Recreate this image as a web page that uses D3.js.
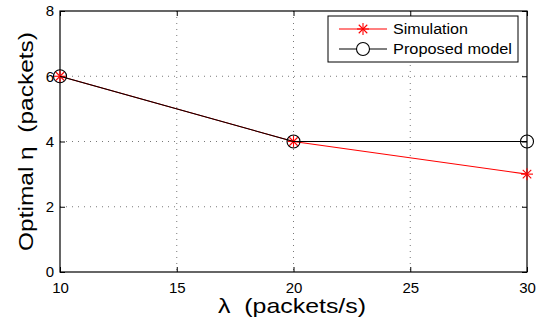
<!DOCTYPE html>
<html>
<head>
<meta charset="utf-8">
<script src="https://cdn.jsdelivr.net/npm/d3@7"></script>
<style>
  body { margin: 0; background: #fff; }
  text { font-family: "Liberation Sans", Arial, sans-serif; white-space: pre; }
</style>
</head>
<body>
<div id="chart"></div>
<script>
const lambdas = [10, 20, 30];
const simulation = [6, 4, 3];
const proposedModel = [6, 4, 4];
const xTicks = [10, 15, 20, 25, 30];
const yTicks = [0, 2, 4, 6, 8];

const width = 542, height = 322;
const margin = { left: 60, right: 15, top: 11, bottom: 50 };
const innerW = width - margin.left - margin.right;
const innerH = height - margin.top - margin.bottom;

const svg = d3.select('#chart').append('svg')
    .attr('width', width)
    .attr('height', height);

const chart = svg.append('g').attr('transform', `translate(${margin.left}, ${margin.top})`);

const xScale = d3.scaleLinear().domain([10, 30]).range([0, innerW]);
const yScale = d3.scaleLinear().domain([0, 8]).range([innerH, 0]);

// dotted grid
chart.append('g').selectAll('line')
    .data(xTicks.slice(1, -1))
    .join('line')
    .attr('x1', d => xScale(d)).attr('x2', d => xScale(d))
    .attr('y1', 0).attr('y2', innerH)
    .attr('stroke', '#555').attr('stroke-width', 0.8)
    .attr('stroke-dasharray', '1,5');
chart.append('g').selectAll('line')
    .data(yTicks.slice(1, -1))
    .join('line')
    .attr('y1', d => yScale(d)).attr('y2', d => yScale(d))
    .attr('x1', 0).attr('x2', innerW)
    .attr('stroke', '#555').attr('stroke-width', 0.8)
    .attr('stroke-dasharray', '1,5');

// axes, matlab style ticks inward
const styleAxis = g => {
    g.select('.domain').remove();
    g.selectAll('line').attr('stroke', '#000');
    g.selectAll('text').attr('font-size', 15).attr('fill', '#000');
};
chart.append('g').attr('transform', `translate(0, ${innerH})`)
    .call(d3.axisBottom(xScale).tickValues(xTicks).tickSizeInner(-5).tickSizeOuter(0).tickPadding(10))
    .call(styleAxis);
chart.append('g')
    .call(d3.axisLeft(yScale).tickValues(yTicks).tickSizeInner(-5).tickSizeOuter(0).tickPadding(6))
    .call(styleAxis);
chart.append('g')
    .call(d3.axisTop(xScale).tickValues(xTicks).tickSizeInner(-5).tickSizeOuter(0).tickFormat(''))
    .call(styleAxis);
chart.append('g').attr('transform', `translate(${innerW}, 0)`)
    .call(d3.axisRight(yScale).tickValues(yTicks).tickSizeInner(-5).tickSizeOuter(0).tickFormat(''))
    .call(styleAxis);

chart.append('rect')
    .attr('width', innerW).attr('height', innerH)
    .attr('fill', 'none').attr('stroke', '#000').attr('stroke-width', 1.2);

const simData = lambdas.map((x, i) => ({ x, y: simulation[i] }));
const modelData = lambdas.map((x, i) => ({ x, y: proposedModel[i] }));

const line = d3.line().x(d => xScale(d.x)).y(d => yScale(d.y));

const asterisk = (g, cx, cy, r, color) => {
    [0, 45, 90, 135].forEach(a => {
        const rad = a * Math.PI / 180;
        g.append('line')
            .attr('x1', cx - r * Math.cos(rad)).attr('y1', cy - r * Math.sin(rad))
            .attr('x2', cx + r * Math.cos(rad)).attr('y2', cy + r * Math.sin(rad))
            .attr('stroke', color).attr('stroke-width', 1.1);
    });
};

// simulation first, model line drawn over it
chart.append('path').datum(simData)
    .attr('fill', 'none').attr('stroke', '#ff0000').attr('stroke-width', 1.1)
    .attr('d', line);
const simMarks = chart.append('g');
simData.forEach(d => asterisk(simMarks, xScale(d.x), yScale(d.y), 6, '#ff0000'));

chart.append('path').datum(modelData)
    .attr('fill', 'none').attr('stroke', '#000').attr('stroke-width', 1.1)
    .attr('d', line);
chart.append('g').selectAll('circle')
    .data(modelData)
    .join('circle')
    .attr('cx', d => xScale(d.x)).attr('cy', d => yScale(d.y))
    .attr('r', 6.5)
    .attr('fill', 'none').attr('stroke', '#000').attr('stroke-width', 1.1);

// legend
const legend = svg.append('g').attr('transform', 'translate(328, 16)');
legend.append('rect')
    .attr('width', 190).attr('height', 46)
    .attr('fill', '#fff').attr('stroke', '#000').attr('stroke-width', 1);
legend.append('line').attr('x1', 11).attr('x2', 59).attr('y1', 13).attr('y2', 13)
    .attr('stroke', '#ff0000').attr('stroke-width', 1.1);
asterisk(legend, 35, 13, 6, '#ff0000');
legend.append('text').attr('x', 65).attr('y', 13).attr('dy', '0.35em')
    .attr('font-size', 14).attr('textLength', 75).attr('lengthAdjust', 'spacingAndGlyphs')
    .text('Simulation');
legend.append('line').attr('x1', 11).attr('x2', 59).attr('y1', 33).attr('y2', 33)
    .attr('stroke', '#000').attr('stroke-width', 1.1);
legend.append('circle').attr('cx', 35).attr('cy', 33).attr('r', 6.5)
    .attr('fill', '#fff').attr('stroke', '#000').attr('stroke-width', 1.1);
legend.append('text').attr('x', 65).attr('y', 33).attr('dy', '0.35em')
    .attr('font-size', 14).attr('textLength', 119).attr('lengthAdjust', 'spacingAndGlyphs')
    .text('Proposed model');

// axis labels
svg.append('text')
    .attr('x', 218).attr('y', 313)
    .attr('font-size', 21).attr('textLength', 148).attr('lengthAdjust', 'spacingAndGlyphs')
    .text('λ  (packets/s)');
svg.append('text')
    .attr('transform', 'translate(33, 251) rotate(-90)')
    .attr('font-size', 21).attr('textLength', 219).attr('lengthAdjust', 'spacingAndGlyphs')
    .text('Optimal η  (packets)');
</script>
</body>
</html>
